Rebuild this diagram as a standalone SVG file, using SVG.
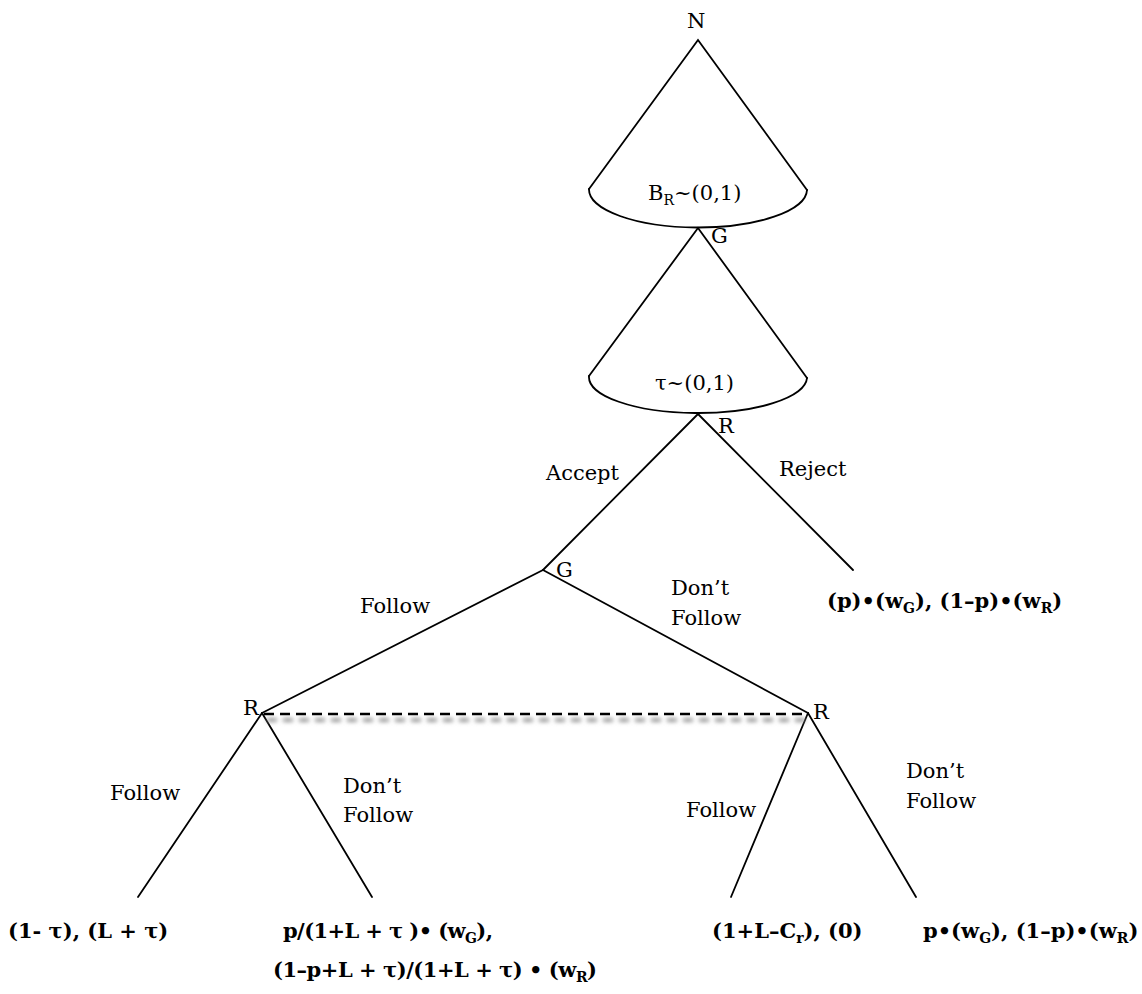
<svg xmlns="http://www.w3.org/2000/svg" width="1142" height="994" viewBox="0 0 1142 994">
<style>
.t{font-family:"DejaVu Serif","Liberation Serif",serif;font-size:21px;fill:#000}
.b{font-family:"DejaVu Serif","Liberation Serif",serif;font-size:21px;font-weight:bold;fill:#000}
.s{font-size:14px}
.ln{stroke:#000;stroke-width:1.8;fill:none;stroke-linecap:round;stroke-linejoin:miter}
.dash{stroke:#000;stroke-width:2.6;stroke-dasharray:10 6;fill:none}
.shadow{stroke:#8c8c8c;stroke-width:3.5;stroke-dasharray:10 6;fill:none}
</style>
<defs>
<filter id="blur" filterUnits="userSpaceOnUse" x="240" y="700" width="600" height="40"><feGaussianBlur stdDeviation="2"/></filter>
</defs>
<rect width="1142" height="994" fill="#fff"/>
<g id="nature">
<text class="t" x="687" y="28">N</text>
<path class="ln" d="M589,189 L698,40 L807,190"/>
<path class="ln" d="M589,189 A109,38 0 0 0 807,190"/>
<text class="t" x="648" y="200">B<tspan class="s" dy="5">R</tspan><tspan dy="-5">~(0,1)</tspan></text>
</g>
<g id="g-chance">
<text class="t" x="711" y="243">G</text>
<path class="ln" d="M589,376 L698,228 L807,378"/>
<path class="ln" d="M589,376 A109,36 0 0 0 807,378"/>
<text class="t" x="655" y="390">τ~(0,1)</text>
</g>
<g id="r-top">
<text class="t" x="718" y="433">R</text>
</g>
<g id="g-node">
<text class="t" x="556" y="577">G</text>
</g>
<g id="r-left">
<text class="t" x="243" y="715">R</text>
</g>
<g id="r-right">
<text class="t" x="813" y="719">R</text>
</g>
<g id="connectors">
<line class="ln" x1="698" y1="414" x2="543" y2="570"/>
<line class="ln" x1="698" y1="414" x2="853" y2="570"/>
<line class="ln" x1="543" y1="570" x2="262" y2="713"/>
<line class="ln" x1="543" y1="570" x2="808" y2="713"/>
<line class="ln" x1="262" y1="713" x2="138" y2="897"/>
<line class="ln" x1="262" y1="713" x2="372" y2="897"/>
<line class="ln" x1="808" y1="713" x2="731" y2="897"/>
<line class="ln" x1="808" y1="713" x2="916" y2="897"/>
<line class="shadow" x1="267" y1="720" x2="810" y2="720" filter="url(#blur)"/>
<line class="dash" x1="264" y1="714" x2="806" y2="714"/>
<text class="t" x="546" y="480">Accept</text>
<text class="t" x="779" y="476">Reject</text>
<text class="t" x="360" y="613">Follow</text>
<text class="t" x="671" y="595">Don’t</text>
<text class="t" x="671" y="625">Follow</text>
<text class="t" x="110" y="800">Follow</text>
<text class="t" x="343" y="793">Don’t</text>
<text class="t" x="343" y="822">Follow</text>
<text class="t" x="686" y="817">Follow</text>
<text class="t" x="906" y="778">Don’t</text>
<text class="t" x="906" y="808">Follow</text>
</g>
<g id="payoff-reject">
<text class="b" x="827" y="608">(p)•(w<tspan class="s" dy="5">G</tspan><tspan dy="-5">), (1–p)•(w</tspan><tspan class="s" dy="5">R</tspan><tspan dy="-5">)</tspan></text>
</g>
<g id="payoff-ff">
<text class="b" x="8" y="938">(1- τ), (L + τ)</text>
</g>
<g id="payoff-fd">
<text class="b" x="283" y="938" textLength="210" lengthAdjust="spacing">p/(1+L + τ )• (w<tspan class="s" dy="5">G</tspan><tspan dy="-5">),</tspan></text>
<text class="b" x="273" y="977" textLength="324" lengthAdjust="spacing">(1–p+L + τ)/(1+L + τ) • (w<tspan class="s" dy="5">R</tspan><tspan dy="-5">)</tspan></text>
</g>
<g id="payoff-df">
<text class="b" x="712" y="938">(1+L–C<tspan class="s" dy="5">r</tspan><tspan dy="-5">), (0)</tspan></text>
</g>
<g id="payoff-dd">
<text class="b" x="923" y="938">p•(w<tspan class="s" dy="5">G</tspan><tspan dy="-5">), (1–p)•(w</tspan><tspan class="s" dy="5">R</tspan><tspan dy="-5">)</tspan></text>
</g>
</svg>
